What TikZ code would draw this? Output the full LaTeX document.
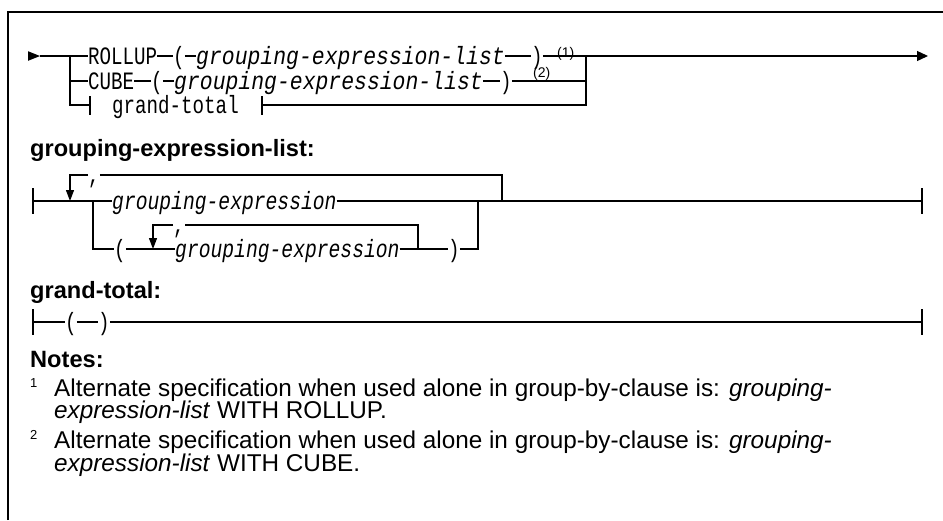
\documentclass[tikz,border=0pt]{standalone}
\usepackage{graphicx}
\usepackage{fontspec}
\setmainfont{Liberation Sans}
\newfontfamily\railmono{Liberation Mono}
\newcommand{\rlA}[1]{\scalebox{0.767}[1]{\railmono\fontsize{25}{30}\selectfont #1}}
\newcommand{\rlIA}[1]{\scalebox{0.857}[1]{\railmono\itshape\fontsize{25}{30}\selectfont #1}}
\newcommand{\rlIB}[1]{\scalebox{0.787}[1]{\railmono\itshape\fontsize{25}{30}\selectfont #1}}
\usetikzlibrary{arrows.meta}
\tikzset{
  rail/.style={line width=1.3pt},
  tipdown/.style={-{Triangle[length=11pt,width=8pt]}},
  txt/.style={inner sep=0pt, anchor=base west},
  fn/.style={inner sep=0pt, anchor=base west, font=\fontsize{14}{16}\selectfont},
  head/.style={inner sep=0pt, anchor=base west, font=\bfseries\fontsize{23.6}{28}\selectfont},
  note/.style={inner sep=0pt, anchor=base west, font=\fontsize{24.3}{29}\selectfont},
  sup/.style={inner sep=0pt, anchor=base west, font=\fontsize{13}{15}\selectfont},
}
\begin{document}
\begin{tikzpicture}[x=1pt,y=-1pt]
\useasboundingbox (0,0) rectangle (943,520);
% frame
\draw[line width=1.2pt] (8,520) -- (8,12) -- (943,12);

% ===== Section 1 =====
\coordinate (s0) at (28,56);
\coordinate (s1) at (40,56);
\coordinate (jL) at (70,56);
\coordinate (jL2) at (70,81);
\coordinate (jL3) at (70,105);
\coordinate (jR) at (586,56);
\coordinate (jR2) at (586,81);
\coordinate (jR3) at (586,105);
\coordinate (e1) at (928,56);
\coordinate (b1) at (90,105);
\coordinate (b2) at (262,105);

\fill (s0) ++(0,-4.8) -- (s1) -- ++(-12,4.8) -- cycle;

\node[txt] (rollup) at (88,64) {\rlA{ROLLUP}};
\node[txt] (lp1) at (173,64) {\rlA{(}};
\node[txt] (gel1) at (196,64) {\rlIA{grouping-expression-list}};
\node[txt] (rp1) at (531,64) {\rlA{)}};
\node[fn] (n1) at (557,57.5) {(1)};

\node[txt] (cube) at (88,89) {\rlA{CUBE}};
\node[txt] (lp2) at (151,89) {\rlA{(}};
\node[txt] (gel2) at (174,89) {\rlIA{grouping-expression-list}};
\node[txt] (rp2) at (500,89) {\rlA{)}};
\node[fn] (n2) at (533,77.5) {(2)};

\node[txt] (gt) at (112,113) {\rlA{grand-total}};

\draw[rail] (s1) -- (jL) -- (rollup.west |- jL);
\draw[rail] (rollup.east |- jL) -- (lp1.west |- jL);
\draw[rail] (lp1.east |- jL) -- (gel1.west |- jL);
\draw[rail] (gel1.east |- jL) -- (rp1.west |- jL);
\draw[rail,-{Triangle[length=11pt,width=10pt]}] (rp1.east |- jL) -- (jR) -- (e1);

\draw[rail] (jL) -- (jL3) -- (b1);
\draw[rail] (jL2) -- (cube.west |- jL2);
\draw[rail] (cube.east |- jL2) -- (lp2.west |- jL2);
\draw[rail] (lp2.east |- jL2) -- (gel2.west |- jL2);
\draw[rail] (gel2.east |- jL2) -- (rp2.west |- jL2);
\draw[rail] (rp2.east |- jL2) -- (jR2);
\draw[rail] (b1) ++(0,-9) -- ++(0,19);
\draw[rail] (b2) ++(0,-9) -- ++(0,19);
\draw[rail] (b2) -- (jR3) -- (jR);

% ===== Section 2 =====
\node[head] (h1) at (30,156) {grouping-expression-list:};

\coordinate (t2s) at (33,201);
\coordinate (t2e) at (922,201);
\coordinate (ja) at (93,201);
\coordinate (jb) at (93,249);
\coordinate (jc) at (502,201);
\coordinate (jc2) at (502,175);
\coordinate (lt) at (70,175);
\coordinate (la) at (70,201);
\coordinate (jd) at (478,201);
\coordinate (jd2) at (478,249);
\coordinate (ie) at (418,249);
\coordinate (ie2) at (418,225);
\coordinate (it) at (153,225);
\coordinate (ia) at (153,249);

\node[txt] (gea) at (112,209) {\rlIB{grouping-expression}};
\node[txt] (c1) at (88,183) {\rlA{,}};
\node[txt] (lp3) at (114,257) {\rlA{(}};
\node[txt] (c2) at (173,233) {\rlA{,}};
\node[txt] (geb) at (175,257) {\rlIB{grouping-expression}};
\node[txt] (rp3) at (448,257) {\rlA{)}};

\draw[rail] (t2s) ++(0,-13) -- ++(0,26);
\draw[rail] (t2e) ++(0,-13) -- ++(0,26);
\draw[rail] (t2s) -- (gea.west |- t2s);
\draw[rail] (gea.east |- t2s) -- (t2e);
\draw[rail] (c1.east |- lt) -- (jc2) -- (jc);
\draw[rail,tipdown] (c1.west |- lt) -- (lt) -- (la);
\draw[rail] (ja) -- (jb) -- (lp3.west |- jb);
\draw[rail] (lp3.east |- jb) -- (geb.west |- jb);
\draw[rail] (geb.east |- jb) -- (rp3.west |- jb);
\draw[rail] (rp3.east |- jb) -- (jd2) -- (jd);
\draw[rail] (ie) -- (ie2) -- (c2.east |- it);
\draw[rail,tipdown] (c2.west |- it) -- (it) -- (ia);

% ===== Section 3 =====
\node[head] (h2) at (30,298) {grand-total:};
\coordinate (t3s) at (33,322);
\coordinate (t3e) at (922,322);
\node[txt] (lp4) at (65,330) {\rlA{(}};
\node[txt] (rp4) at (98,330) {\rlA{)}};
\draw[rail] (t3s) ++(0,-13) -- ++(0,26);
\draw[rail] (t3e) ++(0,-13) -- ++(0,26);
\draw[rail] (t3s) -- (lp4.west |- t3s);
\draw[rail] (lp4.east |- t3s) -- (rp4.west |- t3s);
\draw[rail] (rp4.east |- t3s) -- (t3e);

% ===== Notes =====
\node[head] (h3) at (30,367) {Notes:};
\node[sup] (sp1) at (30,387.5) {1};
\node[note] (n1a) at (54,396) {Alternate specification when used alone in group-by-clause is: \textit{grouping-}};
\node[note] (n1b) at (54,418.5) {\textit{expression-list} WITH ROLLUP.};
\node[sup] (sp2) at (30,439.5) {2};
\node[note] (n2a) at (54,448.5) {Alternate specification when used alone in group-by-clause is: \textit{grouping-}};
\node[note] (n2b) at (54,471) {\textit{expression-list} WITH CUBE.};
\end{tikzpicture}
\end{document}
